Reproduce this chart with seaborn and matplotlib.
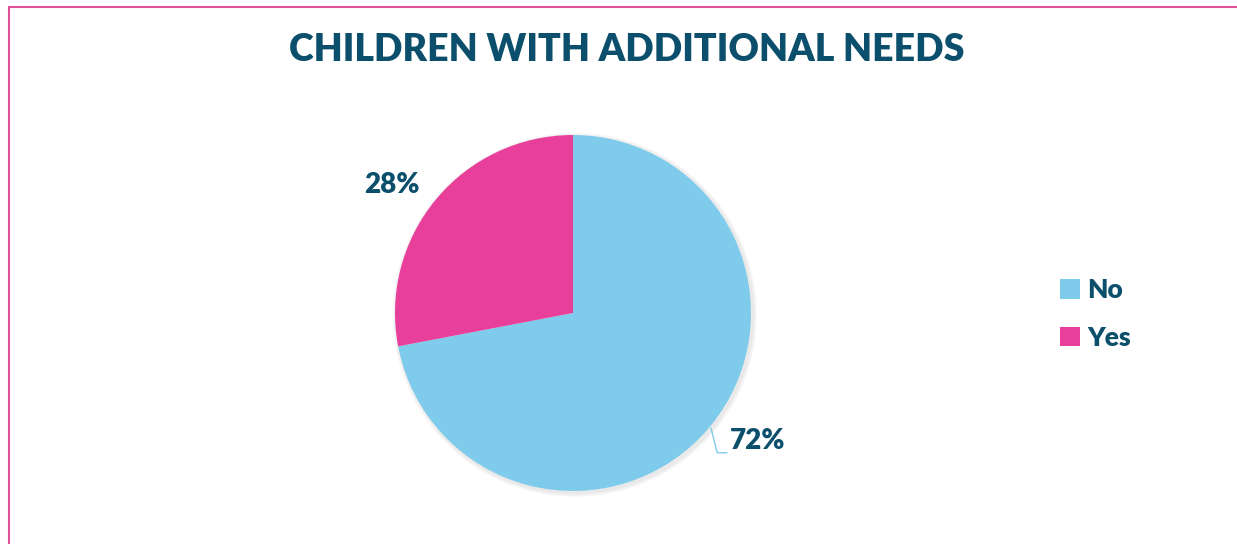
import numpy as np
import matplotlib.pyplot as plt
import seaborn as sns
from matplotlib.patches import Circle

sns.set_style('white')
plt.rcParams['font.family'] = ['Lato', 'DejaVu Sans']

# Data
categories = ['No', 'Yes']
shares = [72, 28]
colors = ['#7FCBEB', '#E8409A']
title_color = '#0B4F6C'

fig = plt.figure(figsize=(12.37, 5.44), dpi=100)

# pink frame on the left and top edges
fig.add_artist(plt.Line2D([9 / 1237, 9 / 1237], [0, 1 - 7 / 544], color='#E0509A', lw=1.5))
fig.add_artist(plt.Line2D([9 / 1237, 1], [1 - 7 / 544, 1 - 7 / 544], color='#E0509A', lw=1.5))

ax = fig.add_axes([395 / 1237, 53 / 544, 356 / 1237, 356 / 544])

# soft shadow
for i in range(5):
    ax.add_patch(Circle((0.01, -0.01), 1.0 + 0.005 * i, color='black', alpha=0.015,
                        zorder=0, clip_on=False))

wedges, _ = ax.pie(shares, colors=colors, startangle=90, counterclock=False,
                   radius=1.0, wedgeprops=dict(linewidth=0))
ax.set_xlim(-1, 1)
ax.set_ylim(-1, 1)
ax.set_aspect('equal')
ax.axis('off')

# data labels
ax.plot([0.775, 0.81, 0.865], [-0.645, -0.785, -0.785], color='#7FCBEB', lw=1, clip_on=False)
ax.text(0.88, -0.72, f'{shares[0]}%', ha='left', va='center', fontsize=20,
        fontweight='heavy', color=title_color, clip_on=False)
ax.text(-1.015, 0.72, f'{shares[1]}%', ha='center', va='center', fontsize=20,
        fontweight='heavy', color=title_color, clip_on=False)

fig.text(627 / 1237, 1 - 50 / 544, 'CHILDREN WITH ADDITIONAL NEEDS', ha='center', va='center',
         fontsize=27, fontweight='heavy', color=title_color)

leg = fig.legend(wedges, categories, loc='center left', bbox_to_anchor=(1036 / 1237, 1 - 314 / 544),
                 frameon=False, prop=dict(size=19, weight='heavy'), handlelength=0.75,
                 handleheight=0.75, handletextpad=0.3, labelspacing=0.9)
for t in leg.get_texts():
    t.set_color(title_color)

fig.savefig('out.png', dpi=100, facecolor='white')
